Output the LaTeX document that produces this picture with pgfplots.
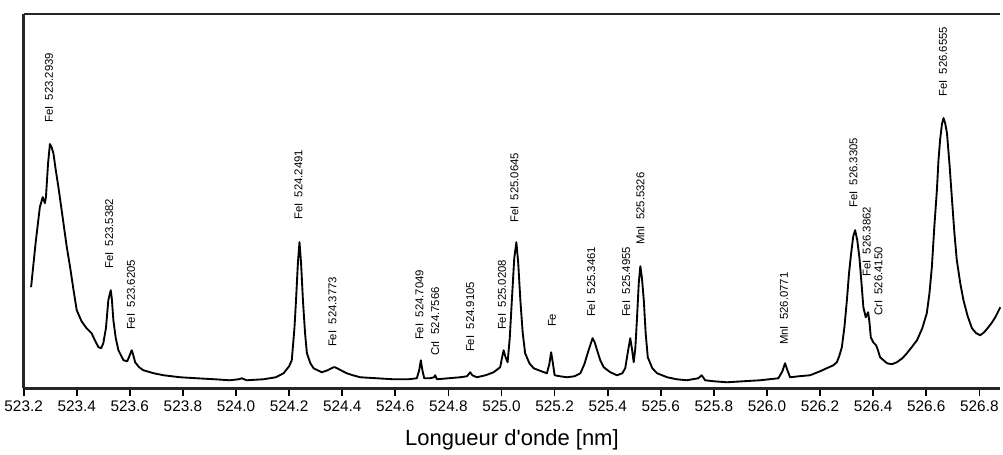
\documentclass[border=0pt]{standalone}
\usepackage{fontspec}
\setmainfont{Liberation Sans}
\usepackage{pgfplots}
\pgfplotsset{compat=1.18}

\pgfplotstableread{
x y
523.228 101
523.245 145
523.261 181
523.272 191
523.280 185
523.284 191
523.292 225
523.299 244
523.305 241
523.312 235
523.321 218
523.331 201
523.350 165
523.362 142
523.375 121
523.388 98
523.400 78
523.418 67
523.437 60
523.456 55
523.470 47
523.482 41
523.492 40
523.500 45
523.510 60
523.519 88
523.528 98
523.532 90
523.538 68
523.547 50
523.557 38
523.576 28
523.590 27
523.595 30
523.607 38
523.612 34
523.620 26
523.635 21
523.651 18
523.690 15
523.727 13
523.790 11
523.852 10
523.920 9
523.976 8
524.010 9
524.022 10
524.040 8
524.103 9
524.150 11
524.179 15
524.200 22
524.210 28
524.220 60
524.226 88
524.233 125
524.239 146
524.245 125
524.252 88
524.260 55
524.267 35
524.280 25
524.292 20
524.323 16
524.345 18
524.367 21
524.373 21
524.395 18
524.417 15
524.440 13
524.468 11
524.530 10
524.593 9
524.650 9
524.681 10
524.690 18
524.696 28
524.702 18
524.709 10
524.730 10
524.746 11
524.750 13
524.757 9
524.800 10
524.844 11
524.870 12
524.882 16
524.890 13
524.907 11
524.940 13
524.970 16
524.995 21
525.003 32
525.008 38
525.014 32
525.023 26
525.031 50
525.039 88
525.048 130
525.056 146
525.063 125
525.071 88
525.080 55
525.089 35
525.105 25
525.121 20
525.150 17
525.171 15
525.180 24
525.187 36
525.193 26
525.200 13
525.220 12
525.247 11
525.275 12
525.297 15
525.312 24
525.328 38
525.343 50
525.351 46
525.360 38
525.372 28
525.385 21
525.410 16
525.435 13
525.455 15
525.466 20
525.477 38
525.485 50
525.491 40
525.498 26
525.504 40
525.510 68
525.517 105
525.523 122
525.529 110
525.536 88
525.543 55
525.551 31
525.568 20
525.586 15
525.624 11
525.660 9
525.698 8
525.741 10
525.754 13
525.767 8
525.800 7
525.849 6
525.910 7
525.974 8
526.043 10
526.058 17
526.068 25
526.077 18
526.087 11
526.120 12
526.162 13
526.200 17
526.225 20
526.250 23
526.263 26
526.272 32
526.282 41
526.292 62
526.301 88
526.309 115
526.317 135
526.325 152
526.332 158
526.340 148
526.348 131
526.356 105
526.363 81
526.372 71
526.381 76
526.386 66
526.391 51
526.400 46
526.411 43
526.418 38
526.426 31
526.452 25
526.470 24
526.489 26
526.510 30
526.527 35
526.545 41
526.565 48
526.585 60
526.602 75
526.612 95
526.621 121
526.630 160
526.640 198
526.646 228
526.652 248
526.659 264
526.665 270
526.671 265
526.678 255
526.688 222
526.697 188
526.706 155
526.715 128
526.728 105
526.740 88
526.756 72
526.772 60
526.788 55
526.803 53
526.818 56
526.834 61
526.848 66
526.860 71
526.879 81
}\spectrum

\begin{document}
\begin{tikzpicture}[lbl/.style={rotate=90, anchor=west, font=\fontsize{8.5}{10}\selectfont, inner sep=0pt}]
\begin{axis}[
    scale only axis,
    width=732pt, height=280.5pt,
    xmin=523.2, xmax=526.879,
    ymin=0, ymax=374,
    axis y line*=left,
    ytick=\empty,
    xtick={523.2,523.4,...,526.81},
    minor x tick num=1,
    xtick pos=bottom,
    tick align=outside,
    major tick length=5.5pt,
    minor tick length=3pt,
    every tick/.style={black, line width=1.3pt},
    axis line style={line width=2pt, black!85},
    x tick label style={/pgf/number format/.cd, fixed, fixed zerofill, precision=1, 1000 sep={}},
    /pgf/number format/assume math mode=true,
    tick label style={font=\fontsize{11.5}{13}\selectfont},
    xlabel={Longueur d\textquotesingle onde [nm]},
    xlabel style={font=\fontsize{16.5}{19}\selectfont, yshift=-7pt},
    clip=false,
]
\addplot[black, line width=1.4pt, line join=round] table[x=x, y=y] {\spectrum};

\node[lbl] at (axis cs:523.295,265) {FeI\ \ 523.2939};
\node[lbl] at (axis cs:523.522,119) {FeI\ \ 523.5382};
\node[lbl] at (axis cs:523.604,58) {FeI\ \ 523.6205};
\node[lbl] at (axis cs:524.235,168) {FeI\ \ 524.2491};
\node[lbl] at (axis cs:524.363,41) {FeI\ \ 524.3773};
\node[lbl] at (axis cs:524.691,48) {FeI\ \ 524.7049};
\node[lbl] at (axis cs:524.750,32) {CrI\ \ 524.7566};
\node[lbl] at (axis cs:524.882,36) {FeI\ \ 524.9105};
\node[lbl] at (axis cs:525.002,58) {FeI\ \ 525.0208};
\node[lbl] at (axis cs:525.049,165) {FeI\ \ 525.0645};
\node[lbl] at (axis cs:525.190,61) {Fe};
\node[lbl] at (axis cs:525.338,71) {FeI\ \ 525.3461};
\node[lbl] at (axis cs:525.470,71) {FeI\ \ 525.4955};
\node[lbl] at (axis cs:525.523,143) {MnI\ \ 525.5326};
\node[lbl] at (axis cs:526.064,43) {MnI\ \ 526.0771};
\node[lbl] at (axis cs:526.326,180) {FeI\ \ 526.3305};
\node[lbl] at (axis cs:526.376,111) {FeI\ \ 526.3862};
\node[lbl] at (axis cs:526.420,72) {CrI\ \ 526.4150};
\node[lbl] at (axis cs:526.663,291) {FeI\ \ 526.6555};
\end{axis}
\path (current axis.north west) ++(0,10.5pt);
\end{tikzpicture}
\end{document}
